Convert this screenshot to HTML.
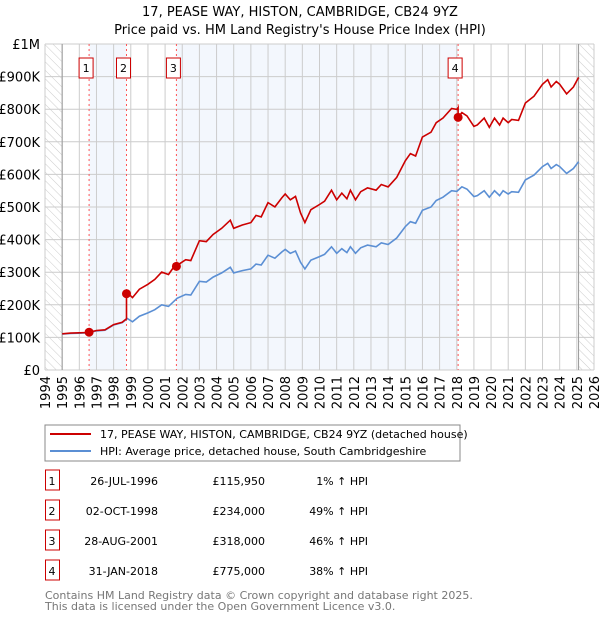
<!DOCTYPE html>
<html><head><meta charset="utf-8"><style>
body{margin:0;background:#fff;font-family:"DejaVu Sans","Liberation Sans",sans-serif;}
svg text{font-family:"DejaVu Sans","Liberation Sans",sans-serif;}
</style></head><body>
<svg id="c" width="600" height="620" viewBox="0 0 600 620" xmlns="http://www.w3.org/2000/svg">
<defs><pattern id="hatch" width="6" height="6" patternUnits="userSpaceOnUse" patternTransform="rotate(-45)"><line x1="0" y1="0" x2="0" y2="6" stroke="#ccc" stroke-width="1"/></pattern></defs>
<text x="300" y="16" text-anchor="middle" font-size="13">17, PEASE WAY, HISTON, CAMBRIDGE, CB24 9YZ</text>
<text x="300" y="34" text-anchor="middle" font-size="13">Price paid vs. HM Land Registry's House Price Index (HPI)</text>
<g id="plot"></g>
<g>
<rect x="45" y="425" width="415" height="36" fill="#fff" stroke="#888"/>
<line x1="50" y1="434" x2="91" y2="434" stroke="#cc0000" stroke-width="2"/>
<text x="100" y="438" font-size="11">17, PEASE WAY, HISTON, CAMBRIDGE, CB24 9YZ (detached house)</text>
<line x1="50" y1="451" x2="91" y2="451" stroke="#5b8fd4" stroke-width="2"/>
<text x="100" y="455" font-size="11">HPI: Average price, detached house, South Cambridgeshire</text>
</g>
<g id="table" font-size="11"></g>
<text x="45" y="599" font-size="11" fill="#777">Contains HM Land Registry data © Crown copyright and database right 2025.</text>
<text x="45" y="610" font-size="11" fill="#777">This data is licensed under the Open Government Licence v3.0.</text>
</svg>
<script>
const hpiYears=[1995.0,1995.5,1996.0,1996.5,1997.0,1997.5,1998.0,1998.5,1998.8,1999.1,1999.5,2000.0,2000.4,2000.8,2001.2,2001.7,2002.2,2002.5,2003.0,2003.4,2003.8,2004.3,2004.8,2005.0,2005.5,2006.0,2006.3,2006.6,2007.0,2007.4,2007.8,2008.0,2008.3,2008.6,2008.9,2009.15,2009.5,2010.0,2010.3,2010.7,2011.0,2011.3,2011.6,2011.8,2012.1,2012.4,2012.8,2013.3,2013.6,2014.0,2014.5,2015.0,2015.3,2015.6,2016.0,2016.5,2016.8,2017.2,2017.7,2018.0,2018.3,2018.6,2019.0,2019.2,2019.6,2019.9,2020.2,2020.5,2020.7,2021.0,2021.2,2021.6,2022.0,2022.5,2023.0,2023.3,2023.5,2023.8,2024.0,2024.4,2024.8,2025.1];
const hpiValues=[110,112,113,114,120,122,138,145,158,148,165,175,185,200,195,220,232,230,272,270,285,298,315,298,305,310,325,322,352,343,362,370,358,365,330,310,337,348,355,378,358,372,360,378,358,375,383,378,390,385,405,440,455,450,490,500,520,530,550,548,562,555,532,535,550,530,550,535,550,540,547,545,583,598,624,634,618,630,624,603,618,639];
const saleLabels=["1","2","3","4"];
const saleYears=[1996.57,1998.75,2001.66,2018.08];
const salePrices=[115950,234000,318000,775000];
const saleDates=["26-JUL-1996","02-OCT-1998","28-AUG-2001","31-JAN-2018"];
const salePriceText=["£115,950","£234,000","£318,000","£775,000"];
const saleHpiText=["1% \u2191 HPI","49% \u2191 HPI","46% \u2191 HPI","38% \u2191 HPI"];
const yTicks=[0,100,200,300,400,500,600,700,800,900,1000];
const yTickLabels=["£0","£100K","£200K","£300K","£400K","£500K","£600K","£700K","£800K","£900K","£1M"];
const xTicks=[1994,1995,1996,1997,1998,1999,2000,2001,2002,2003,2004,2005,2006,2007,2008,2009,2010,2011,2012,2013,2014,2015,2016,2017,2018,2019,2020,2021,2022,2023,2024,2025,2026];

const NS="http://www.w3.org/2000/svg";
const X0=45,X1=594,Y0=370,Y1=44;
const xs=y=>X0+(y-1994)/32*(X1-X0);
const ys=v=>Y0-v/1000*(Y0-Y1);
const plot=document.getElementById('plot');
function mk(tag,attrs,parent){const e=document.createElementNS(NS,tag);for(const k in attrs)e.setAttribute(k,attrs[k]);(parent||plot).appendChild(e);return e;}
function hpiAt(t){for(let i=0;i<hpiYears.length-1;i++){if(t<=hpiYears[i+1]){const f=(t-hpiYears[i])/(hpiYears[i+1]-hpiYears[i]);return hpiValues[i]+f*(hpiValues[i+1]-hpiValues[i]);}}return hpiValues[hpiValues.length-1];}

for(let i=0;i<saleYears.length-1;i+=2){
 const b=mk('rect',{x:xs(saleYears[i]),y:Y1,width:xs(saleYears[i+1])-xs(saleYears[i]),height:Y0-Y1,fill:'#eef3fc',opacity:0.7});
 
 
}
const h1=mk('rect',{x:X0,y:Y1,width:xs(1995)-X0,height:Y0-Y1,fill:'url(#hatch)'});


const h2=mk('rect',{x:xs(2025.1),y:Y1,width:X1-xs(2025.1),height:Y0-Y1,fill:'url(#hatch)'});


yTicks.forEach((v,i)=>{
 const g=mk('line',{x1:X0,x2:X1,y1:ys(v),y2:ys(v),stroke:'#ccc','stroke-width':1});
 
 
 const t=mk('text',{x:40,y:ys(v)+5,'text-anchor':'end','font-size':13});
 
 
 t.textContent=yTickLabels[i];
});
xTicks.forEach(y=>{
 const g=mk('line',{x1:xs(y),x2:xs(y),y1:Y1,y2:Y0,stroke:'#ccc','stroke-width':1});
 
 
 const t=mk('text',{x:0,y:0,'text-anchor':'end','font-size':13,transform:`translate(${xs(y)+5},376) rotate(-90)`});
 
 
 t.textContent=y;
});
const ax1=mk('line',{x1:xs(1995),x2:xs(1995),y1:Y1,y2:Y0,stroke:'#999','stroke-width':1});


const ax2=mk('line',{x1:xs(2025.1),x2:xs(2025.1),y1:Y1,y2:Y0,stroke:'#999','stroke-width':1});


saleYears.forEach((y,i)=>{
 const l=mk('line',{x1:xs(y),x2:xs(y),y1:Y1,y2:Y0,stroke:'#ff5555','stroke-width':1,'stroke-dasharray':'2,3'});
 
 
 const r=mk('rect',{x:xs(y)-10,y:58,width:14,height:20,fill:'#fff',stroke:'#cc0000'});
 
 
 const t=mk('text',{x:xs(y)-3,y:72,'text-anchor':'middle','font-size':11});
 
 
 t.textContent=saleLabels[i];
});
let d='';hpiYears.forEach((y,i)=>{d+=(i?'L':'M')+xs(y).toFixed(1)+','+ys(hpiValues[i]).toFixed(1);});
const hp=mk('path',{d:d,fill:'none',stroke:'#5b8fd4','stroke-width':1.6});


let pd='';
const pts=[];
let ratio=salePrices[0]/1000/hpiAt(saleYears[0]);
hpiYears.forEach((y,i)=>{
 for(let s=0;s<saleYears.length;s++){
  if(saleYears[s]<=y && (i===0||saleYears[s]>hpiYears[i-1])){
   pts.push([saleYears[s],hpiAt(saleYears[s])*ratio]);
   ratio=salePrices[s]/1000/hpiAt(saleYears[s]);
   pts.push([saleYears[s],salePrices[s]/1000]);
  }
 }
 pts.push([y,hpiValues[i]*ratio]);
});
pts.forEach((p,i)=>{pd+=(i?'L':'M')+xs(p[0]).toFixed(1)+','+ys(p[1]).toFixed(1);});
const pp=mk('path',{d:pd,fill:'none',stroke:'#cc0000','stroke-width':1.6});


saleYears.forEach((y,i)=>{
 const c=mk('circle',{cx:xs(y),cy:ys(salePrices[i]/1000),r:4.5,fill:'#cc0000'});
 
 
});
const tb=document.getElementById('table');
saleYears.forEach((y,i)=>{
 const ry=481+i*30;
 const r=mk('rect',{x:45.5,y:ry-11,width:14,height:20,fill:'#fff',stroke:'#cc0000'},tb);
 
 
 const t0=mk('text',{x:52,y:ry+4,'text-anchor':'middle'},tb);
 
 
 t0.textContent=saleLabels[i];
 const t1=mk('text',{x:158,y:ry+4,'text-anchor':'end'},tb);
 
 
 t1.textContent=saleDates[i];
 const t2=mk('text',{x:265,y:ry+4,'text-anchor':'end'},tb);
 
 
 t2.textContent=salePriceText[i];
 const t3=mk('text',{x:368,y:ry+4,'text-anchor':'end'},tb);
 
 
 t3.textContent=saleHpiText[i];
});
</script>
</body></html>
